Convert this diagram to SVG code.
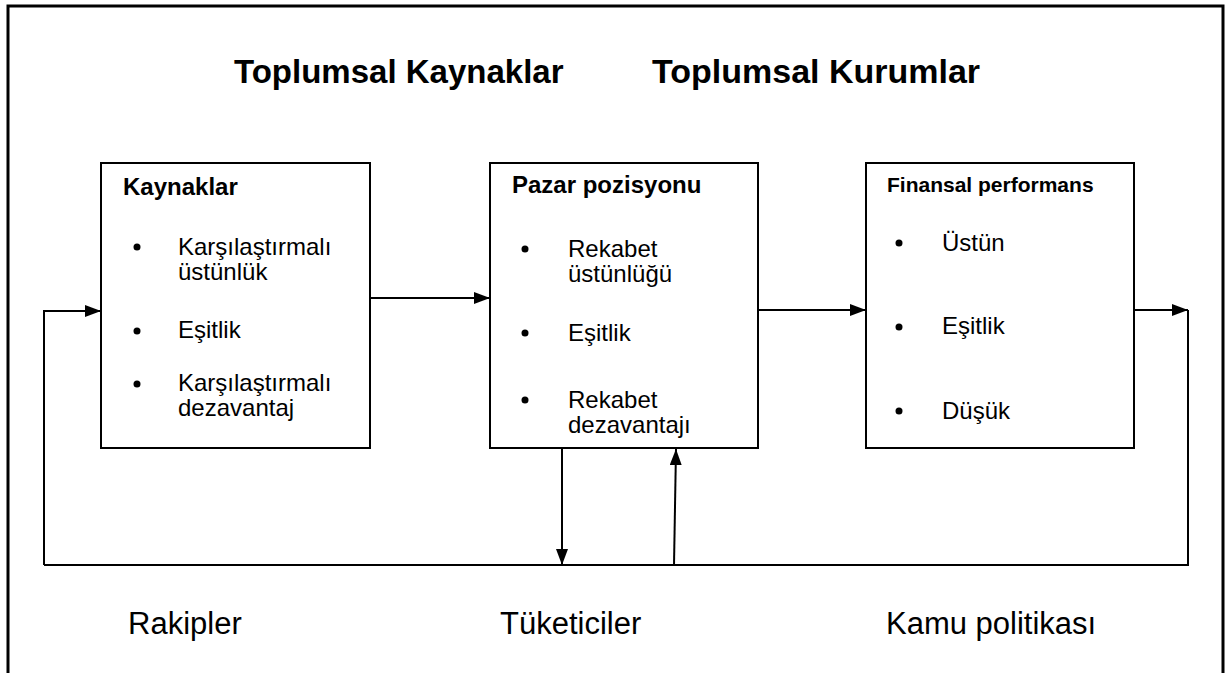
<svg xmlns="http://www.w3.org/2000/svg" width="1226" height="673" viewBox="0 0 1226 673">
  <defs>
    <marker id="arrow" viewBox="0 0 16 12" refX="16" refY="6" markerWidth="16" markerHeight="12" markerUnits="userSpaceOnUse" orient="auto">
      <path d="M0,0 L16,6 L0,12 Z" fill="#000"/>
    </marker>
    <style>
      text { font-family: "Liberation Sans", Arial, sans-serif; fill: #000; }
      .title { font-size: 33px; font-weight: bold; }
      .head { font-size: 24px; font-weight: bold; }
      .item { font-size: 24px; }
      .foot { font-size: 31px; }
      .box { fill: #fff; stroke: #000; stroke-width: 2; }
      .wire { fill: none; stroke: #000; stroke-width: 2; }
      .dot { fill: #000; }
    </style>
  </defs>

  <rect width="1226" height="673" fill="#fff"/>
  <!-- outer frame, open at the bottom -->
  <path d="M8,673 L8,6 L1223,6 L1223,673" fill="none" stroke="#000" stroke-width="3"/>

  <text class="title" x="234" y="83">Toplumsal Kaynaklar</text>
  <text class="title" x="652" y="83" style="font-size:34px">Toplumsal Kurumlar</text>

  <g id="connectors">
    <path class="wire" d="M44,565 L44,311 L101,311" marker-end="url(#arrow)"/>
    <path class="wire" d="M370,298 L490,298" marker-end="url(#arrow)"/>
    <path class="wire" d="M758,310 L866,310" marker-end="url(#arrow)"/>
    <path class="wire" d="M1134,310 L1188,310" marker-end="url(#arrow)"/>
    <path class="wire" d="M1188,310 L1188,565 L44,565"/>
    <path class="wire" d="M562,448 L562,565" marker-end="url(#arrow)"/>
    <path class="wire" d="M674,565 L676,449" marker-end="url(#arrow)"/>
  </g>

  <g id="kaynaklar">
    <rect class="box" x="101" y="163" width="269" height="285"/>
    <text class="head" x="123" y="195">Kaynaklar</text>
    <circle class="dot" cx="137" cy="247" r="3.5"/>
    <text class="item" x="178" y="255">Karşılaştırmalı</text>
    <text class="item" x="178" y="280">üstünlük</text>
    <circle class="dot" cx="137" cy="331" r="3.5"/>
    <text class="item" x="178" y="338">Eşitlik</text>
    <circle class="dot" cx="137" cy="384" r="3.5"/>
    <text class="item" x="178" y="391">Karşılaştırmalı</text>
    <text class="item" x="178" y="416">dezavantaj</text>
  </g>

  <g id="pazar-pozisyonu">
    <rect class="box" x="490" y="163" width="268" height="285"/>
    <text class="head" x="512" y="193">Pazar pozisyonu</text>
    <circle class="dot" cx="525" cy="249" r="3.5"/>
    <text class="item" x="568" y="257">Rekabet</text>
    <text class="item" x="568" y="282">üstünlüğü</text>
    <circle class="dot" cx="525" cy="333" r="3.5"/>
    <text class="item" x="568" y="341">Eşitlik</text>
    <circle class="dot" cx="525" cy="400" r="3.5"/>
    <text class="item" x="568" y="408">Rekabet</text>
    <text class="item" x="568" y="433">dezavantajı</text>
  </g>

  <g id="finansal-performans">
    <rect class="box" x="866" y="163" width="268" height="285"/>
    <text class="head" x="887" y="192" style="font-size:21px">Finansal performans</text>
    <circle class="dot" cx="899" cy="243" r="3.5"/>
    <text class="item" x="942" y="251">Üstün</text>
    <circle class="dot" cx="899" cy="327" r="3.5"/>
    <text class="item" x="942" y="334">Eşitlik</text>
    <circle class="dot" cx="899" cy="411" r="3.5"/>
    <text class="item" x="942" y="419">Düşük</text>
  </g>

  <text class="foot" x="128" y="634">Rakipler</text>
  <text class="foot" x="500" y="634">Tüketiciler</text>
  <text class="foot" x="886" y="634">Kamu politikası</text>
</svg>
